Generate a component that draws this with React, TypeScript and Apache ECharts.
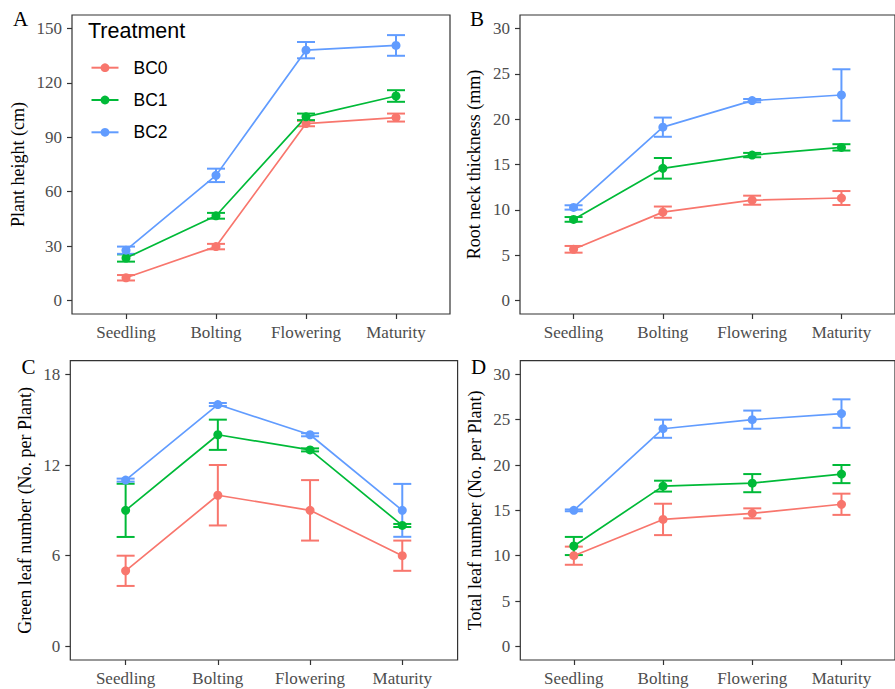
import React, { useEffect, useRef } from "react";
import * as echarts from "echarts";

const stages = ["Seedling", "Bolting", "Flowering", "Maturity"];
const groups = ["BC0", "BC1", "BC2"];
const groupColors = ["#F8766D", "#00BA38", "#619CFF"];

// Panel A: Plant height (cm)
const heightBC0 = [12.5, 29.7, 97.6, 100.9];
const heightBC1 = [23.4, 46.7, 101.3, 112.8];
const heightBC2 = [27.7, 69.0, 138.1, 140.7];
const heightErrBC0 = [1.5, 1.5, 1.5, 2.2];
const heightErrBC1 = [2.0, 1.6, 1.8, 3.2];
const heightErrBC2 = [2.0, 3.7, 4.5, 5.7];
const heightTicks = [0, 30, 60, 90, 120, 150];

// Panel B: Root neck thickness (mm)
const rootBC0 = [5.64, 9.74, 11.06, 11.3];
const rootBC1 = [8.94, 14.58, 16.04, 16.89];
const rootBC2 = [10.26, 19.12, 22.05, 22.67];
const rootErrBC0 = [0.37, 0.62, 0.5, 0.77];
const rootErrBC1 = [0.26, 1.14, 0.24, 0.35];
const rootErrBC2 = [0.24, 1.06, 0.18, 2.84];
const rootTicks = [0, 5, 10, 15, 20, 25, 30];

// Panel C: Green leaf number
const greenBC0 = [5, 10, 9, 6];
const greenBC1 = [9, 14, 13, 8];
const greenBC2 = [11, 16, 14, 9];
const greenErrBC0 = [1, 2, 2, 1];
const greenErrBC1 = [1.76, 1, 0.1, 0.1];
const greenErrBC2 = [0.1, 0.1, 0.1, 1.75];
const greenTicks = [0, 6, 12, 18];

// Panel D: Total leaf number
const totalBC0 = [10, 14, 14.67, 15.67];
const totalBC1 = [11.07, 17.67, 18, 19];
const totalBC2 = [15, 24, 25, 25.67];
const totalErrBC0 = [1, 1.73, 0.55, 1.17];
const totalErrBC1 = [1, 0.6, 1, 1];
const totalErrBC2 = [0.1, 1, 1, 1.57];
const totalTicks = [0, 5, 10, 15, 20, 25, 30];

const panelTitles = [
  "Plant height (cm)",
  "Root neck thickness (mm)",
  "Green leaf number (No. per Plant)",
  "Total leaf number (No. per Plant)",
];
const panelLetters = ["A", "B", "C", "D"];

const SERIF = "Liberation Serif";
const SANS = "Liberation Sans";

export default function App() {
  const ref = useRef<HTMLDivElement>(null);

  useEffect(() => {
    document.body.style.margin = "0";
    if (!ref.current) return;
    const chart = echarts.init(ref.current, undefined, { renderer: "svg" });

    const panels = [
      { means: [heightBC0, heightBC1, heightBC2], errs: [heightErrBC0, heightErrBC1, heightErrBC2], ticks: heightTicks, min: -7.5, max: 157.5, nameGap: 45 },
      { means: [rootBC0, rootBC1, rootBC2], errs: [rootErrBC0, rootErrBC1, rootErrBC2], ticks: rootTicks, min: -1.5, max: 31.5, nameGap: 37 },
      { means: [greenBC0, greenBC1, greenBC2], errs: [greenErrBC0, greenErrBC1, greenErrBC2], ticks: greenTicks, min: -0.9, max: 18.9, nameGap: 36 },
      { means: [totalBC0, totalBC1, totalBC2], errs: [totalErrBC0, totalErrBC1, totalErrBC2], ticks: totalTicks, min: -1.5, max: 31.5, nameGap: 36 },
    ];

    const grids = [
      { left: 72, right: 445, top: 15, bottom: 375 },
      { left: 520, right: -12, top: 15, bottom: 375 },
      { left: 70.3, right: 437.4, top: 360.7, bottom: 29 },
      { left: 520.3, right: -12, top: 360.7, bottom: 29 },
    ].map((g) => ({ ...g, show: true, borderColor: "#333333", borderWidth: 1.2, backgroundColor: "transparent", containLabel: false }));

    const stageIdx = stages.map((_, i) => i);

    const richLab = {
      t: { color: "#4D4D4D", fontFamily: SERIF, fontSize: 17 },
    };

    const xAxes = panels.map((_, i) => ({
      type: "value",
      gridIndex: i,
      position: "bottom",
      min: -0.6,
      max: 3.6,
      axisLine: { show: false, onZero: false },
      splitLine: { show: false },
      axisTick: { show: true, inside: false, length: 5, customValues: stageIdx, lineStyle: { color: "#333333", width: 1.2 } },
      axisLabel: {
        show: true,
        customValues: stageIdx,
        formatter: (v: number) => `{t|${stages[Math.round(v)] ?? ""}}`,
        color: "#4D4D4D",
        fontFamily: SERIF,
        fontSize: 17,
        rich: richLab,
        margin: 10,
      },
    }));

    const yAxes = panels.map((p, i) => ({
      type: "value",
      gridIndex: i,
      position: "left",
      min: p.min,
      max: p.max,
      name: panelTitles[i],
      nameLocation: "middle",
      nameGap: p.nameGap,
      nameTextStyle: { color: "#000000", fontFamily: SERIF, fontSize: 18 },
      axisLine: { show: false, onZero: false },
      splitLine: { show: false },
      axisTick: { show: true, inside: false, length: 5, customValues: p.ticks, lineStyle: { color: "#333333", width: 1.2 } },
      axisLabel: {
        show: true,
        customValues: p.ticks,
        formatter: (v: number) => `{t|${v}}`,
        color: "#4D4D4D",
        fontFamily: SERIF,
        fontSize: 17,
        rich: richLab,
        margin: 10,
      },
    }));

    const series: any[] = [];
    panels.forEach((p, pi) => {
      groups.forEach((g, gi) => {
        const color = groupColors[gi];
        const errData = p.means[gi].map((m, k) => [k, m - p.errs[gi][k], m + p.errs[gi][k]]);
        series.push({
          type: "custom",
          name: `err-${panelLetters[pi]}-${g}`,
          xAxisIndex: pi,
          yAxisIndex: pi,
          z: 2,
          encode: { x: 0, y: [1, 2] },
          data: errData,
          renderItem: (_params: any, api: any) => {
            const x = api.value(0);
            const lo = api.coord([x, api.value(1)]);
            const hi = api.coord([x, api.value(2)]);
            const half = 9;
            const style = { stroke: color, lineWidth: 2, fill: "none" };
            return {
              type: "group",
              children: [
                { type: "line", shape: { x1: lo[0], y1: lo[1], x2: hi[0], y2: hi[1] }, style },
                { type: "line", shape: { x1: lo[0] - half, y1: lo[1], x2: lo[0] + half, y2: lo[1] }, style },
                { type: "line", shape: { x1: hi[0] - half, y1: hi[1], x2: hi[0] + half, y2: hi[1] }, style },
              ],
            };
          },
        });
        series.push({
          type: "line",
          name: g,
          xAxisIndex: pi,
          yAxisIndex: pi,
          z: 3,
          data: p.means[gi].map((m, k) => [k, m]),
          symbol: "circle",
          symbolSize: 9,
          showSymbol: true,
          lineStyle: { color, width: 1.7 },
          itemStyle: { color },
        });
      });
    });

    const letterPos = [
      { x: 13, y: 19.5 },
      { x: 470, y: 19.5 },
      { x: 21.5, y: 367.5 },
      { x: 471, y: 367.5 },
    ];

    const option: any = {
      animation: false,
      backgroundColor: "#ffffff",
      textStyle: { fontFamily: SERIF },
      grid: grids,
      xAxis: xAxes,
      yAxis: yAxes,
      series,
      legend: {
        show: true,
        data: groups,
        orient: "vertical",
        left: 90.5,
        top: 57.7,
        padding: 0,
        itemWidth: 27,
        itemHeight: 11,
        itemGap: 12.3,
        selectedMode: false,
        textStyle: { fontFamily: SANS, fontSize: 17.5, color: "#000000", lineHeight: 20, padding: [0, 0, 0, 10] },
      },
      graphic: [
        ...panelLetters.map((l, i) => ({
          type: "text",
          left: letterPos[i].x,
          top: letterPos[i].y - 11,
          style: { text: l, fontFamily: SERIF, fontSize: 21, fill: "#000000" },
        })),
        {
          type: "text",
          left: 88,
          top: 20,
          style: { text: "Treatment", fontFamily: SANS, fontSize: 21.5, fill: "#000000" },
        },
      ],
    };

    chart.setOption(option);
    return () => chart.dispose();
  }, []);

  return <div ref={ref} style={{ width: 895, height: 689 }} />;
}
